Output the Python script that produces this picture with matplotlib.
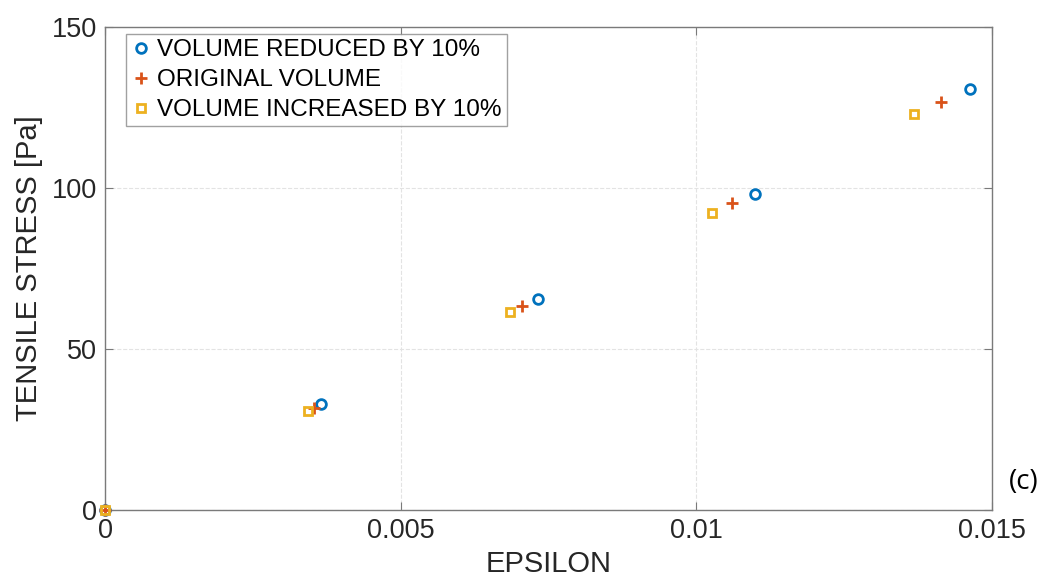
import matplotlib
matplotlib.use('Agg')
import matplotlib.pyplot as plt

# strain / stress values
eps_reduced = [0, 0.00365, 0.00732, 0.01099, 0.01463]
sig_reduced = [0, 32.9, 65.5, 98.1, 130.7]

eps_original = [0, 0.00354, 0.00705, 0.01060, 0.01414]
sig_original = [0, 31.6, 63.4, 95.3, 126.7]

eps_increased = [0, 0.00343, 0.00685, 0.01027, 0.01368]
sig_increased = [0, 30.7, 61.5, 92.2, 123.0]

plt.rcParams['font.family'] = ['Liberation Sans', 'DejaVu Sans']

fig = plt.figure(figsize=(10.47, 5.84), dpi=100)
ax = fig.add_axes([0.1003, 0.1267, 0.8472, 0.8271])

ax.plot(eps_reduced, sig_reduced, 'o', ls='none', color='#0072BD', ms=7,
        mew=2, mfc='none', label='VOLUME REDUCED BY 10%', clip_on=False, zorder=3)
ax.plot(eps_original, sig_original, '+', ls='none', color='#D95319', ms=8,
        mew=2, label='ORIGINAL VOLUME', clip_on=False, zorder=3)
ax.plot(eps_increased, sig_increased, 's', ls='none', color='#EDB120', ms=6,
        mew=2, mfc='none', label='VOLUME INCREASED BY 10%', clip_on=False, zorder=3)

ax.set_xlim(0, 0.015)
ax.set_ylim(0, 150)
ax.set_xticks([0, 0.005, 0.01, 0.015])
ax.set_xticklabels(['0', '0.005', '0.01', '0.015'])
ax.set_yticks([0, 50, 100, 150])

ax.grid(True, ls='--', color='#e3e3e3', lw=0.8)
ax.set_axisbelow(True)
for s in ax.spines.values():
    s.set_color('#7a7a7a')
    s.set_linewidth(1)
ax.tick_params(direction='in', length=6, colors='#7a7a7a', labelcolor='#262626',
               labelsize=19.5, top=True, right=True, pad=6)

ax.set_xlabel('EPSILON', fontsize=21, color='#262626', labelpad=4)
ax.set_ylabel('TENSILE STRESS [Pa]', fontsize=21, color='#262626', labelpad=6)

leg = ax.legend(loc='upper left', fontsize=17.5, frameon=True, fancybox=False,
                handletextpad=0.2, handlelength=0.9, borderpad=0.2,
                labelspacing=0.33, borderaxespad=0.3,
                bbox_to_anchor=(0.015, 1.0))
leg.get_frame().set_edgecolor('#8a8a8a')
leg.get_frame().set_linewidth(1)

fig.text(0.964, 0.162, '(c)', fontsize=20, color='#000000',
         family=['Open Sans', 'DejaVu Sans'])

fig.savefig('out.png', dpi=100)
